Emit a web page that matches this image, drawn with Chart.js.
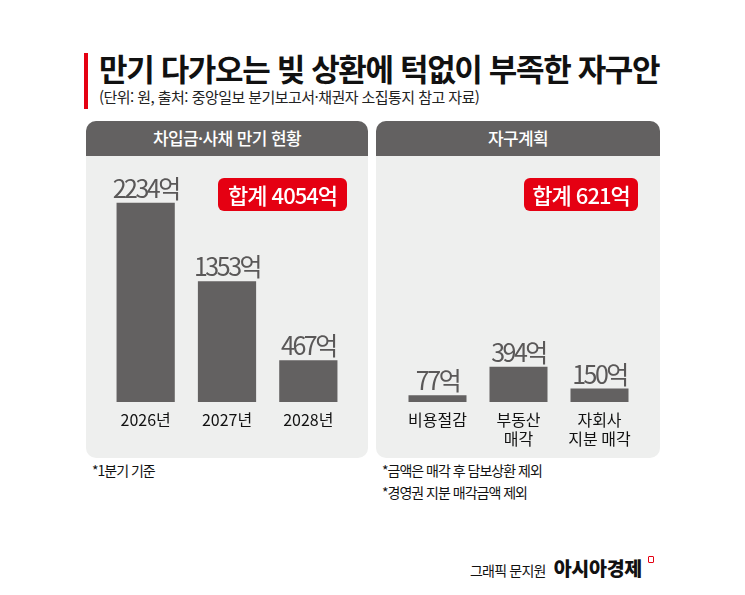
<!DOCTYPE html>
<html lang="ko">
<head>
<meta charset="utf-8">
<script src="https://cdn.jsdelivr.net/npm/chart.js@4.4.1/dist/chart.umd.min.js"></script>
<style>
  body { margin: 0; background: #fff; }
  #page { position: relative; width: 745px; height: 595px; overflow: hidden; font-family: 'Noto Sans CJK KR', sans-serif; color: #111; }
  .redbar { position: absolute; left: 84px; top: 53px; width: 4px; height: 56px; background: #e50012; }
  .title { position: absolute; left: 99px; top: 49px; font-size: 31px; font-weight: 700; letter-spacing: -1.35px; line-height: 38px; white-space: nowrap; }
  .sub { position: absolute; left: 99px; top: 87px; font-size: 15px; letter-spacing: -0.55px; color: #222; line-height: 20px; white-space: nowrap; }
  .panel { position: absolute; top: 121px; height: 337px; background: #eeefee; border-radius: 10px; overflow: hidden; }
  .panel .head { height: 35px; background: #636161; color: #fff; font-size: 17px; font-weight: 500; text-align: center; line-height: 34px; letter-spacing: -0.6px; }
  .badge { position: absolute; top: 178px; height: 33px; background: #e50012; border-radius: 6px; color: #fff; font-size: 22px; font-weight: 500; text-align: center; line-height: 32px; letter-spacing: -1px; }
  canvas { position: absolute; }
  .note { position: absolute; font-size: 14px; letter-spacing: -1px; line-height: 22px; color: #111; white-space: nowrap; }
  .credit { position: absolute; left: 470px; top: 553px; font-size: 14px; letter-spacing: -0.8px; white-space: nowrap; }
  .credit b { font-size: 19.5px; font-weight: 900; letter-spacing: -0.3px; margin-left: 5px; }
  .logo { position: absolute; left: 648px; top: 556px; width: 4px; height: 5px; border: 1.5px solid #e50012; border-radius: 1px; }
</style>
</head>
<body>
<div id="page">
  <div class="redbar"></div>
  <div class="title">만기 다가오는 빚 상환에 턱없이 부족한 자구안</div>
  <div class="sub">(단위: 원, 출처: 중앙일보 분기보고서·채권자 소집통지 참고 자료)</div>

  <div class="panel" style="left:86px;width:282px;"><div class="head">차입금·사채 만기 현황</div></div>
  <div class="panel" style="left:376px;width:284px;"><div class="head">자구계획</div></div>

  <canvas id="debtChart" width="244" height="300" style="left:105px;top:150px;"></canvas>
  <canvas id="planChart" width="243" height="300" style="left:397px;top:150px;"></canvas>

  <div class="badge" id="debtBadge" style="left:218px;width:129px;"></div>
  <div class="badge" id="planBadge" style="left:524px;width:114px;"></div>

  <div class="note" style="left:92px;top:459px;">*1분기 기준</div>
  <div class="note" style="left:382px;top:459px;">*금액은 매각 후 담보상환 제외<br>*경영권 지분 매각금액 제외</div>

  <div class="credit">그래픽 문지원 <b>아시아경제</b></div>
  <div class="logo"></div>
</div>

<script>
// 차입금·사채 만기 (억 원)
const debtYears = ['2026년', '2027년', '2028년'];
const debtValues = [2234, 1353, 467];
const debtTotal = 4054;

// 자구계획 (억 원)
const planItems = ['비용절감', ['부동산', '매각'], ['자회사', '지분 매각']];
const planValues = [77, 394, 150];
const planTotal = 621;

const Y_MAX = 2600; // same scale on both panels

document.getElementById('debtBadge').textContent = '합계 ' + debtTotal + '억';
document.getElementById('planBadge').textContent = '합계 ' + planTotal + '억';

// value text above each bar, e.g. "2234억"
const valueLabels = {
  id: 'valueLabels',
  afterDatasetsDraw(chart) {
    const { ctx } = chart;
    const ds = chart.data.datasets[0];
    ctx.save();
    ctx.font = '400 25px "Noto Sans CJK KR"';
    ctx.letterSpacing = '-2.5px';
    ctx.fillStyle = '#5a5858';
    ctx.textAlign = 'center';
    ctx.textBaseline = 'alphabetic';
    chart.getDatasetMeta(0).data.forEach((bar, i) => {
      ctx.fillText(ds.data[i] + '억', bar.x, bar.y - 5);
    });
    ctx.restore();
  },
};

function makeChart(id, labels, values) {
  return new Chart(document.getElementById(id), {
    type: 'bar',
    data: {
      labels,
      datasets: [{
        data: values,
        backgroundColor: '#636161',
        barPercentage: 0.716,
        categoryPercentage: 1,
      }],
    },
    options: {
      responsive: false,
      animation: false,
      layout: { padding: { top: 20, left: 0, right: 0, bottom: 0 } },
      plugins: { legend: { display: false }, tooltip: { enabled: false } },
      scales: {
        x: {
          grid: { display: false, drawTicks: false },
          border: { display: false },
          ticks: {
            color: '#111',
            padding: 9,
            font: { family: '"Noto Sans CJK KR"', size: 16, lineHeight: 1.15 },
          },
          afterFit: (scale) => { scale.height = 48; },
        },
        y: { display: false, min: 0, max: Y_MAX },
      },
    },
    plugins: [valueLabels],
  });
}

makeChart('debtChart', debtYears, debtValues);
makeChart('planChart', planItems, planValues);
</script>
</body>
</html>
